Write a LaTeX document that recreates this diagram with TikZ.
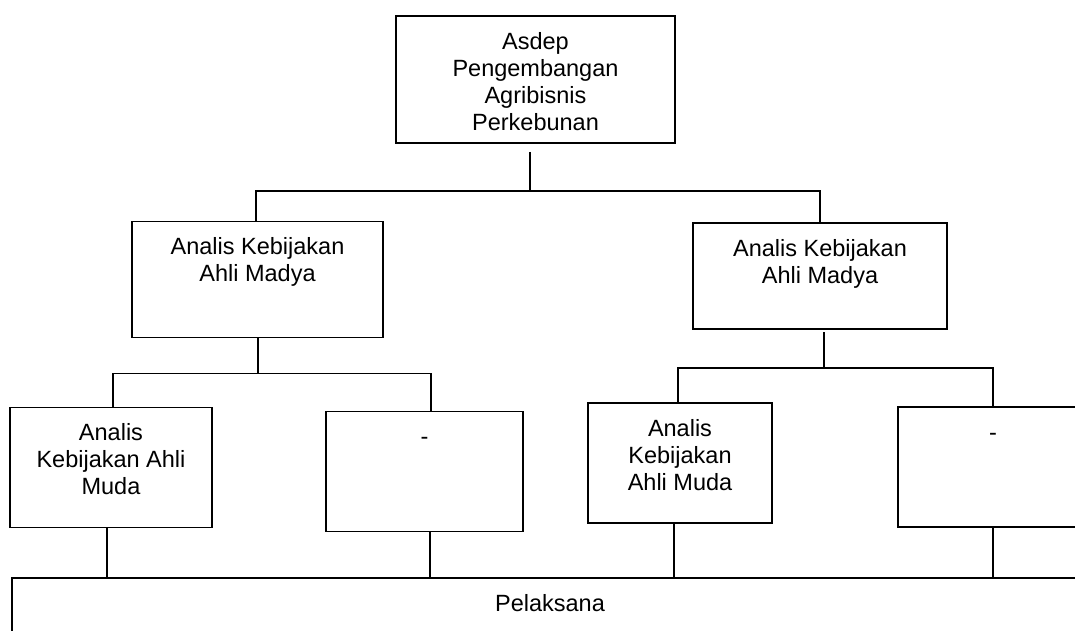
\documentclass[tikz,border=0pt]{standalone}
\usepackage{fontspec}
\setmainfont{Liberation Sans}
\usetikzlibrary{positioning}

\newcommand{\chartfont}{\fontsize{23.5}{27}\selectfont}

\begin{document}
\begin{tikzpicture}[link/.style = {draw = black, line width = 1.8pt}, node distance = 200pt]
\tikzstyle{unit}=[
  draw = black,
  line width = 1.8pt,
  inner sep = 0pt,
  outer sep = 0pt
]
\tikzstyle{caption}=[anchor = north, align = center, inner sep = 0pt, yshift = -14pt, font = \chartfont]

\clip (0,0) rectangle (1075pt,-631pt);

\node[unit, minimum width = 279pt, minimum height = 127pt] (top) at (535.5pt,-79.5pt)
  [label = {[caption]north:\strut Asdep\\Pengembangan\\Agribisnis\\Perkebunan}] {};
\node[unit, minimum width = 251pt, minimum height = 116pt] (madyaL) [below of = top, xshift = -278pt]
  [label = {[caption]north:\strut Analis Kebijakan\\Ahli Madya}] {};
\node[unit, minimum width = 254pt, minimum height = 106pt] (madyaR) [below of = top, xshift = 284.5pt, yshift = 3.5pt]
  [label = {[caption]north:\strut Analis Kebijakan\\Ahli Madya}] {};
\node[unit, minimum width = 202pt, minimum height = 120pt] (mudaL) [below of = madyaL, xshift = -146.5pt, yshift = 12pt]
  [label = {[caption]north:\strut Analis\\Kebijakan Ahli\\Muda}] {};
\node[unit, minimum width = 197pt, minimum height = 120pt] (kosongL) [below of = madyaL, xshift = 167pt, yshift = 8pt]
  [label = {[caption]north:\strut -}] {};
\node[unit, minimum width = 184pt, minimum height = 120pt] (mudaR) [below of = madyaR, xshift = -140pt, yshift = 13pt]
  [label = {[caption]north:\strut Analis\\Kebijakan\\Ahli Muda}] {};
\node[unit, minimum width = 190pt, minimum height = 120pt] (kosongR) [below of = madyaR, xshift = 173pt, yshift = 9pt]
  [label = {[caption]north:\strut -}] {};
\node[unit, minimum width = 1076pt, minimum height = 82pt] (pel) [below of = kosongL, xshift = 125.5pt, yshift = 52.5pt]
  [label = {[caption]north:\strut Pelaksana}] {};

% asdep ke madya
\draw[link] ([xshift = -5.5pt, yshift = -9pt]top.south) -- ++(0,-39pt) coordinate (bus0);
\draw[link] (bus0) -| ([xshift = -1.5pt]madyaL.north);
\draw[link] (bus0) -| (madyaR.north);

% madya ke muda
\draw[link] ([xshift = 0.5pt]madyaL.south) -- ++(0,-36pt) coordinate (bus1);
\draw[link] (bus1) -| ([xshift = 2pt]mudaL.north);
\draw[link] (bus1) -| ([xshift = 6.5pt]kosongL.north);
\draw[link] ([xshift = 4pt, yshift = -3pt]madyaR.south) -- ++(0,-36pt) coordinate (bus2);
\draw[link] (bus2) -| ([xshift = -2pt]mudaR.north);
\draw[link] (bus2) -| (kosongR.north);

% ke pelaksana
\draw[link] ([xshift = -4pt]mudaL.south) -- ([xshift = -4pt]mudaL.south |- pel.north);
\draw[link] ([xshift = 5.5pt]kosongL.south) -- ([xshift = 5.5pt]kosongL.south |- pel.north);
\draw[link] ([xshift = -6pt]mudaR.south) -- ([xshift = -6pt]mudaR.south |- pel.north);
\draw[link] (kosongR.south) -- (kosongR.south |- pel.north);
\end{tikzpicture}
\end{document}
